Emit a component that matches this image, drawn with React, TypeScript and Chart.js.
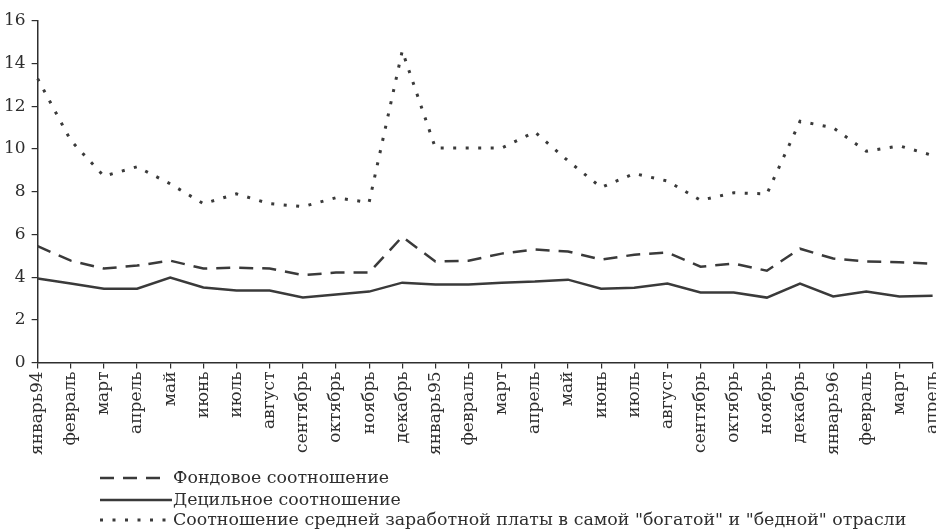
import React, { useEffect, useRef } from "react";
import { Chart, registerables } from "chart.js";
Chart.register(...registerables);

const monthLabels = [
  "январь94", "февраль", "март", "апрель", "май", "июнь", "июль", "август",
  "сентябрь", "октябрь", "ноябрь", "декабрь",
  "январь95", "февраль", "март", "апрель", "май", "июнь", "июль", "август",
  "сентябрь", "октябрь", "ноябрь", "декабрь",
  "январь96", "февраль", "март", "апрель",
];

const fundRatio = [
  5.45, 4.77, 4.4, 4.54, 4.77, 4.4, 4.44, 4.4, 4.1, 4.21, 4.21, 5.89,
  4.73, 4.77, 5.1, 5.29, 5.2, 4.82, 5.05, 5.15, 4.49, 4.63, 4.3, 5.33,
  4.87, 4.73, 4.7, 4.63,
];

const decileRatio = [
  3.93, 3.7, 3.46, 3.46, 3.98, 3.51, 3.37, 3.37, 3.04, 3.18, 3.32, 3.74,
  3.65, 3.65, 3.74, 3.79, 3.88, 3.46, 3.5, 3.7, 3.28, 3.28, 3.04, 3.7,
  3.09, 3.32, 3.09, 3.13,
];

const wageRatio = [
  13.3, 10.4, 8.73, 9.17, 8.37, 7.44, 7.9, 7.44, 7.3, 7.72, 7.5, 14.6,
  10.05, 10.05, 10.05, 10.8, 9.45, 8.2, 8.85, 8.5, 7.6, 7.95, 7.9, 11.3,
  11.0, 9.9, 10.15, 9.7,
];

const legendLabels = [
  "Фондовое соотношение",
  "Децильное соотношение",
  "Соотношение средней заработной платы в самой \"богатой\" и \"бедной\" отрасли",
];

const yTickValues = [0, 2, 4, 6, 8, 10, 12, 14, 16];

const FONT = "'DejaVu Serif', serif";
const INK = "#2e2e2e";
const LINE = "#3a3a3a";

export default function App() {
  const ref = useRef<HTMLCanvasElement>(null);

  useEffect(() => {
    const dashes = [[14, 9], [], [3, 9.5]];
    const legendPlugin = {
      id: "customLegend",
      afterDraw(chart: any) {
        const ctx = chart.ctx as CanvasRenderingContext2D;
        ctx.save();
        const rows = [478, 500, 520];
        ctx.font = `17.4px ${FONT}`;
        ctx.textBaseline = "middle";
        ctx.fillStyle = INK;
        legendLabels.forEach((txt, i) => {
          const y = rows[i];
          ctx.strokeStyle = LINE;
          ctx.lineWidth = i === 2 ? 3 : 2.5;
          ctx.setLineDash(dashes[i]);
          ctx.beginPath();
          ctx.moveTo(102, y);
          ctx.lineTo(i === 1 ? 174 : 169, y);
          ctx.stroke();
          ctx.setLineDash([]);
          ctx.fillText(txt, 175, y);
        });
        ctx.restore();
      },
    };

    const chart = new Chart(ref.current as HTMLCanvasElement, {
      type: "line",
      data: {
        labels: monthLabels,
        datasets: [
          {
            label: legendLabels[0],
            data: fundRatio,
            borderColor: LINE,
            borderWidth: 2.5,
            borderDash: [14, 9],
            pointRadius: 0,
            tension: 0,
          },
          {
            label: legendLabels[1],
            data: decileRatio,
            borderColor: LINE,
            borderWidth: 2.5,
            pointRadius: 0,
            tension: 0,
          },
          {
            label: legendLabels[2],
            data: wageRatio,
            borderColor: LINE,
            borderWidth: 3,
            borderDash: [3, 9.5],
            pointRadius: 0,
            tension: 0,
          },
        ],
      },
      options: {
        responsive: false,
        animation: false,
        layout: { padding: { top: 21, bottom: 73, left: 0, right: 0 } },
        plugins: {
          legend: { display: false },
          tooltip: { enabled: false },
        },
        scales: {
          x: {
            offset: false,
            grid: {
              display: true,
              drawOnChartArea: false,
              drawTicks: true,
              tickLength: 6,
              color: INK,
              lineWidth: 1.2,
            },
            border: { display: true, color: INK, width: 1.5 },
            ticks: {
              autoSkip: false,
              minRotation: 90,
              maxRotation: 90,
              padding: 3,
              color: INK,
              font: { family: FONT, size: 17 },
            },
          },
          y: {
            min: 0,
            max: 16,
            afterBuildTicks: (axis: any) => {
              axis.ticks = yTickValues.map((v) => ({ value: v }));
            },
            grid: {
              display: true,
              drawOnChartArea: false,
              drawTicks: true,
              tickLength: 6,
              color: INK,
              lineWidth: 1.2,
            },
            border: { display: true, color: INK, width: 1.5 },
            ticks: {
              padding: 6,
              color: INK,
              font: { family: FONT, size: 17 },
            },
          },
        },
      },
      plugins: [legendPlugin],
    });
    return () => chart.destroy();
  }, []);

  return (
    <div
      style={{
        position: "absolute",
        left: 0,
        top: 0,
        width: 936,
        height: 531,
        overflow: "hidden",
        background: "#ffffff",
      }}
    >
      <canvas
        ref={ref}
        width={958}
        height={531}
        style={{ display: "block", marginLeft: -2 }}
      />
    </div>
  );
}
